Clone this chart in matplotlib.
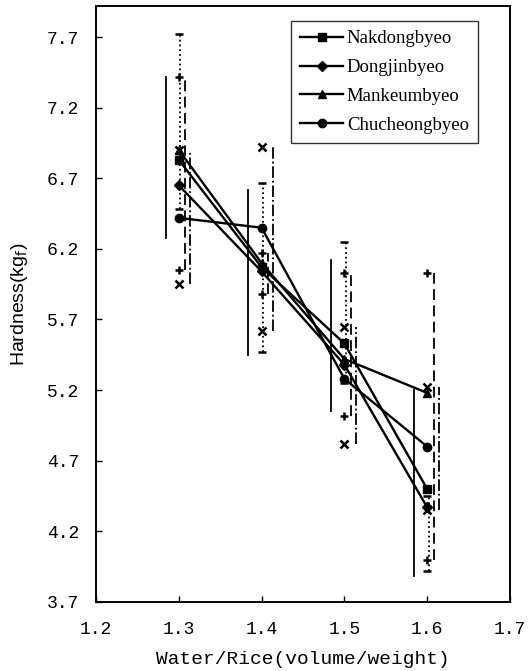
import matplotlib
matplotlib.use("Agg")
import matplotlib.pyplot as plt

# water/rice ratios and mean hardness of each variety
ratio = [1.3, 1.4, 1.5, 1.6]
nakdong = [6.83, 6.07, 5.53, 4.50]
dongjin = [6.65, 6.04, 5.38, 4.37]
mankeum = [6.90, 6.10, 5.42, 5.18]
chucheong = [6.42, 6.35, 5.28, 4.80]

# min/max hardness range of each variety at each ratio
nakdong_lo = [6.28, 5.45, 5.05, 3.88]
nakdong_hi = [7.42, 6.62, 6.12, 5.20]
dongjin_lo = [6.48, 5.47, 5.25, 3.92]
dongjin_hi = [7.72, 6.67, 6.25, 4.45]
mankeum_lo = [6.05, 5.88, 5.02, 4.00]
mankeum_hi = [7.42, 6.17, 6.03, 6.03]
chucheong_lo = [5.95, 5.62, 4.82, 4.35]
chucheong_hi = [6.90, 6.92, 5.65, 5.22]

fig = plt.figure(figsize=(5.29, 6.71), dpi=100)
ax = fig.add_axes([0.1815, 0.103, 0.7825, 0.888])

# vertical range bars, slightly offset so they do not overlap
ranges = [
    (nakdong_lo, nakdong_hi, -0.016, "-", None),
    (dongjin_lo, dongjin_hi, 0.002, ":", "_"),
    (mankeum_lo, mankeum_hi, 0.008, (0, (6, 3)), "+"),
    (chucheong_lo, chucheong_hi, 0.014, "-.", "x"),
]
for lo, hi, dx, ls, cap in ranges:
    for x, a, b in zip(ratio, lo, hi):
        ax.plot([x + dx, x + dx], [a, b], color="black", linestyle=ls, linewidth=1.3)
        if cap:
            ax.plot([x, x], [a, b], linestyle="none", marker=cap, color="black",
                    markersize=6, markeredgewidth=1.8)

ax.plot(ratio, nakdong, color="black", marker="s", markersize=6, linewidth=1.7, label="Nakdongbyeo")
ax.plot(ratio, dongjin, color="black", marker="D", markersize=5, linewidth=1.7, label="Dongjinbyeo")
ax.plot(ratio, mankeum, color="black", marker="^", markersize=6, linewidth=1.7, label="Mankeumbyeo")
ax.plot(ratio, chucheong, color="black", marker="o", markersize=6, linewidth=1.7, label="Chucheongbyeo")

ax.set_xlim(1.2, 1.7)
ax.set_ylim(3.7, 7.92)
ax.set_xticks([1.2, 1.3, 1.4, 1.5, 1.6, 1.7])
ax.set_yticks([3.7, 4.2, 4.7, 5.2, 5.7, 6.2, 6.7, 7.2, 7.7])
ax.tick_params(direction="in", length=4, width=1, labelsize=13)
ax.tick_params(axis="x", pad=14)
ax.tick_params(axis="y", pad=12)
for lab in ax.get_xticklabels() + ax.get_yticklabels():
    lab.set_family("Liberation Mono")
for sp in ax.spines.values():
    sp.set_linewidth(1.4)

ax.set_xlabel("Water/Rice(volume/weight)", family="Liberation Mono", fontsize=14, labelpad=9)
ax.set_ylabel("Hardness(kg$_\\mathrm{f}$)", family="Liberation Sans", fontsize=14, labelpad=12)

leg = ax.legend(loc="upper left", bbox_to_anchor=(0.47, 0.975), prop={"family": "Liberation Serif", "size": 13.5},
                frameon=True, fancybox=False, edgecolor="black", handlelength=2.3,
                borderpad=0.5, labelspacing=0.62, handletextpad=0.2, borderaxespad=0)
leg.get_frame().set_linewidth(1.0)

fig.savefig("out.png", dpi=100)
